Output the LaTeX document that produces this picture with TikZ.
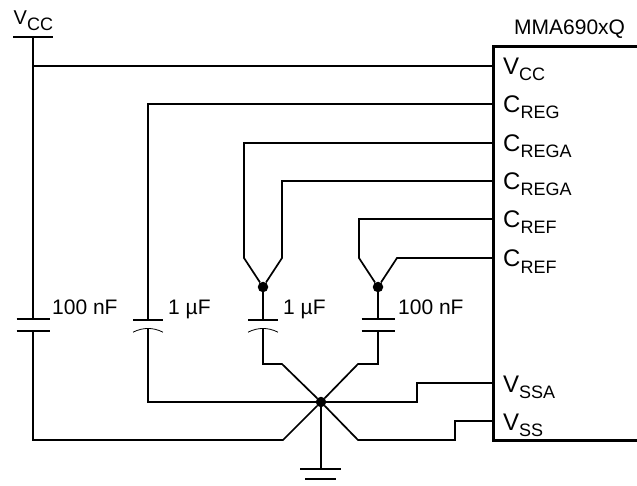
\documentclass[tikz,border=0pt]{standalone}
\usepackage{fontspec}
\setmainfont{Liberation Sans}
\usetikzlibrary{calc}
\tikzset{
	wire/.style={line width=1.7pt, line join=miter},
	thinplate/.style={line width=0.8pt},
	chipline/.style={line width=3pt, line join=miter},
	dot/.style={circle, fill=black, inner sep=0pt, minimum size=10.5pt},
	lab/.style={anchor=base west, inner sep=0pt, font=\fontsize{21}{24}\selectfont},
	pinlab/.style={anchor=base west, inner sep=0pt, font=\fontsize{24}{28}\selectfont}
}
\newcommand{\subtxt}[2]{#1\raisebox{-6pt}{\fontsize{18}{20}\selectfont #2}}
\begin{document}
\begin{tikzpicture}[x=1pt, y=-1pt, line cap=butt]
	\useasboundingbox (0,0) rectangle (637,486);
	\def\xpin{493} \def\xlab{503}
	
	% chip
	\coordinate (chipa) at (637,47);
	\coordinate (chipb) at (\xpin,47);
	\coordinate (chipc) at (\xpin,440);
	\coordinate (chipd) at (637,440);
	\draw[chipline] (chipa)--(chipb)--(chipc)--(chipd);
	\node[lab] (chipname) at (514,35) {MMA690xQ};
	
	% pin labels
	\foreach \pname/\py/\ptop/\psub in {vcc/66/V/CC, creg/104/C/REG, crega/143/C/REGA, cregb/181/C/REGA, crefa/219/C/REF, crefb/258/C/REF, vssa/383/V/SSA, vss/421/V/SS}{
		\coordinate (p\pname) at (\xpin,\py);
		\node[pinlab] (l\pname) at (\xlab,\py+9) {\subtxt{\ptop}{\psub}};
	}
	
	% supply
	\coordinate (sa) at (13,37);
	\coordinate (sb) at (53,37);
	\coordinate (st) at (33,37);
	\coordinate (sj) at (33,66);
	\node[anchor=base west, inner sep=0pt, font=\fontsize{20}{24}\selectfont] (lsupply) at (13.5,25) {\subtxt{V}{CC}};
	\draw[wire] (sa)--(sb);
	\draw[wire] (st)--(sj)--(pvcc);
	
	% junctions
	\node[dot] (jgnd) at (321,402) {};
	\node[dot] (jrega) at (263,287) {};
	\node[dot] (jref) at (378,287) {};
	
	% capacitors: top end and bottom end of each one
	\coordinate (cat) at (33,319);   \coordinate (cab) at (33,331);
	\coordinate (cbt) at (148,320);  \coordinate (cbb) at (148,328.2);
	\coordinate (cct) at (263,320);  \coordinate (ccb) at (263,328.2);
	\coordinate (cdt) at (378,319);  \coordinate (cdb) at (378,331);
	
	\draw[wire] ($(cat)+(-16.5,0)$)--($(cat)+(16.5,0)$);
	\draw[wire] ($(cab)+(-16.5,0)$)--($(cab)+(16.5,0)$);
	\draw[wire] ($(cdt)+(-16.5,0)$)--($(cdt)+(16.5,0)$);
	\draw[wire] ($(cdb)+(-16.5,0)$)--($(cdb)+(16.5,0)$);
	\foreach \ctop/\cbot in {cbt/cbb, cct/ccb}{
		\draw[wire] ($(\ctop)+(-15,0)$)--($(\ctop)+(15,0)$);
		\draw[thinplate] ($(\cbot)+(-15,4)$).. controls ($(\cbot)+(-5,-1)$) and ($(\cbot)+(5,-1)$) .. ($(\cbot)+(15,4)$);
	}
	\node[lab] (lca) at (52,314) {100 nF};
	\node[lab] (lcb) at (168,314) {1 µF};
	\node[lab] (lcc) at (283,314) {1 µF};
	\node[lab] (lcd) at (398,314) {100 nF};
	
	% wires
	\draw[wire] (sj)--(cat);
	\draw[wire] (cab)--(33,440)--(283,440)--(jgnd);
	\draw[wire] (pcreg)--(148,104)--(cbt);
	\draw[wire] (cbb)--(148,402)--(jgnd);
	\draw[wire] (pcrega)--(244,143)--(244,258)--(jrega);
	\draw[wire] (pcregb)--(282,181)--(282,258)--(jrega);
	\draw[wire] (jrega)--(cct);
	\draw[wire] (ccb)--(263,364)--(282,364)--(jgnd);
	\draw[wire] (pcrefa)--(359,219)--(359,258)--(jref);
	\draw[wire] (pcrefb)--(397,258)--(jref);
	\draw[wire] (jref)--(cdt);
	\draw[wire] (cdb)--(378,364)--(358,364)--(jgnd);
	\draw[wire] (jgnd)--(417,402)--(417,383)--(pvssa);
	\draw[wire] (jgnd)--(358,440)--(455,440)--(455,421)--(pvss);
	
	% ground
	\coordinate (gt) at (321,469);
	\draw[wire] (jgnd)--(gt);
	\draw[wire] (300,469)--(341,469);
	\draw[wire] (305,479)--(336,479);
\end{tikzpicture}
\end{document}
